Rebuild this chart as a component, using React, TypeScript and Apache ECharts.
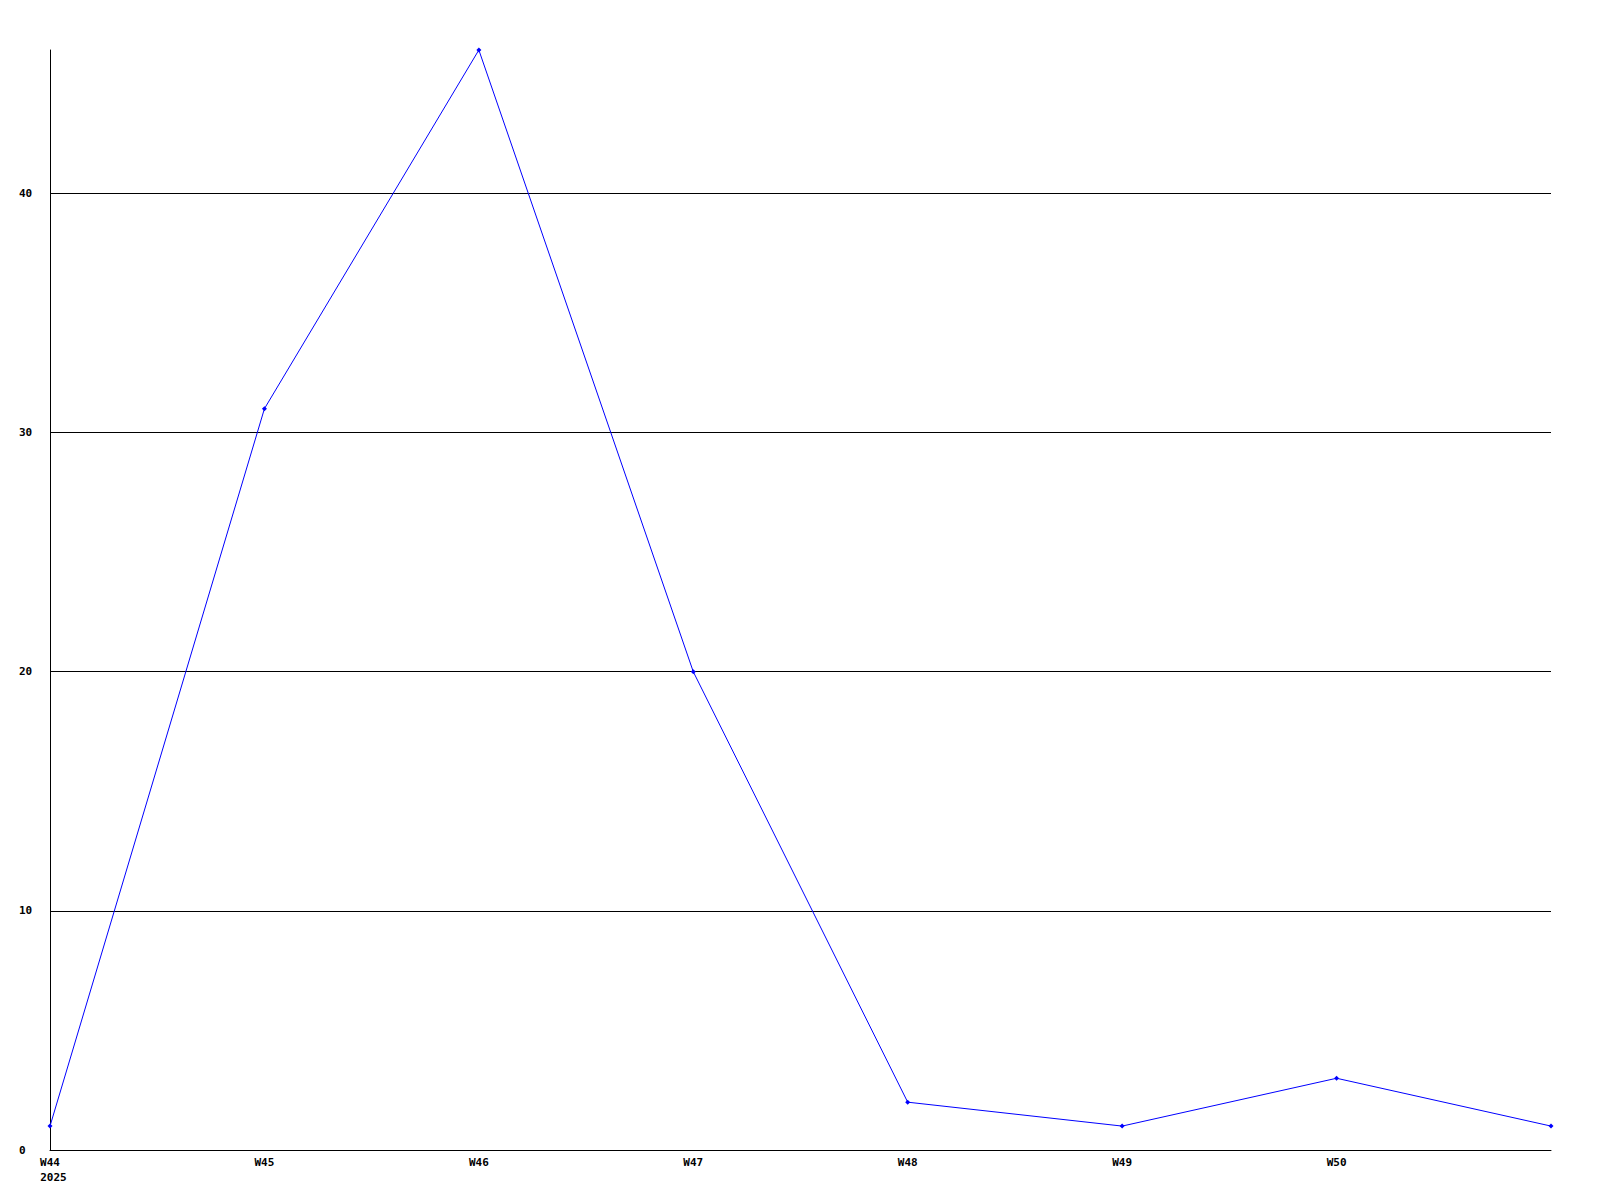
import React, { useEffect, useRef } from "react";
import * as echarts from "echarts";

const weeks = ["W44", "W45", "W46", "W47", "W48", "W49", "W50", "W51"];
const values = [1, 31, 46, 20, 2, 1, 3, 1];
const yearLabel = "2025";
const yMax = 46;
const yInterval = 10;

export default function App() {
  const ref = useRef<HTMLDivElement>(null);
  useEffect(() => {
    if (!ref.current) return;
    const chart = echarts.init(ref.current, null, { renderer: "svg" });
    const font = {
      fontFamily: "DejaVu Sans Mono",
      fontWeight: "bold" as const,
      fontSize: 11,
      color: "#000",
    };
    chart.setOption({
      animation: false,
      backgroundColor: "#fff",
      grid: { left: 50, top: 50, right: 49, bottom: 50, containLabel: false },
      xAxis: {
        type: "category",
        data: weeks,
        boundaryGap: false,
        axisLine: { show: true, lineStyle: { color: "#000", width: 1 } },
        axisTick: { show: false },
        splitLine: { show: false },
        axisLabel: {
          ...font,
          margin: 5,
          lineHeight: 15,
          interval: (i: number) => i < weeks.length - 1,
          formatter: (v: string, i: number) =>
            i === 0 ? "{w|" + v + "}\n{y|" + yearLabel + "}" : "{w|" + v + "}",
          rich: {
            w: { ...font, lineHeight: 15 },
            y: { ...font, lineHeight: 15, padding: [0, 0, 0, 7] },
          },
        },
      },
      yAxis: {
        type: "value",
        min: 0,
        max: yMax,
        interval: yInterval,
        axisLine: { show: true, lineStyle: { color: "#000", width: 1 } },
        axisTick: { show: false },
        splitLine: {
          show: true,
          showMinLine: false,
          showMaxLine: false,
          lineStyle: { color: "#000", width: 1 },
        },
        axisLabel: {
          ...font,
          align: "left",
          margin: 31,
          showMaxLabel: false,
        },
      },
      series: [
        {
          type: "line",
          data: values,
          symbol: "diamond",
          symbolSize: 5,
          showSymbol: true,
          lineStyle: { color: "#0000ff", width: 1 },
          itemStyle: { color: "#0000ff" },
        },
      ],
    });
    return () => chart.dispose();
  }, []);
  return (
    <div
      ref={ref}
      style={{ position: "absolute", left: 0, top: 0, width: 1600, height: 1200 }}
    />
  );
}
